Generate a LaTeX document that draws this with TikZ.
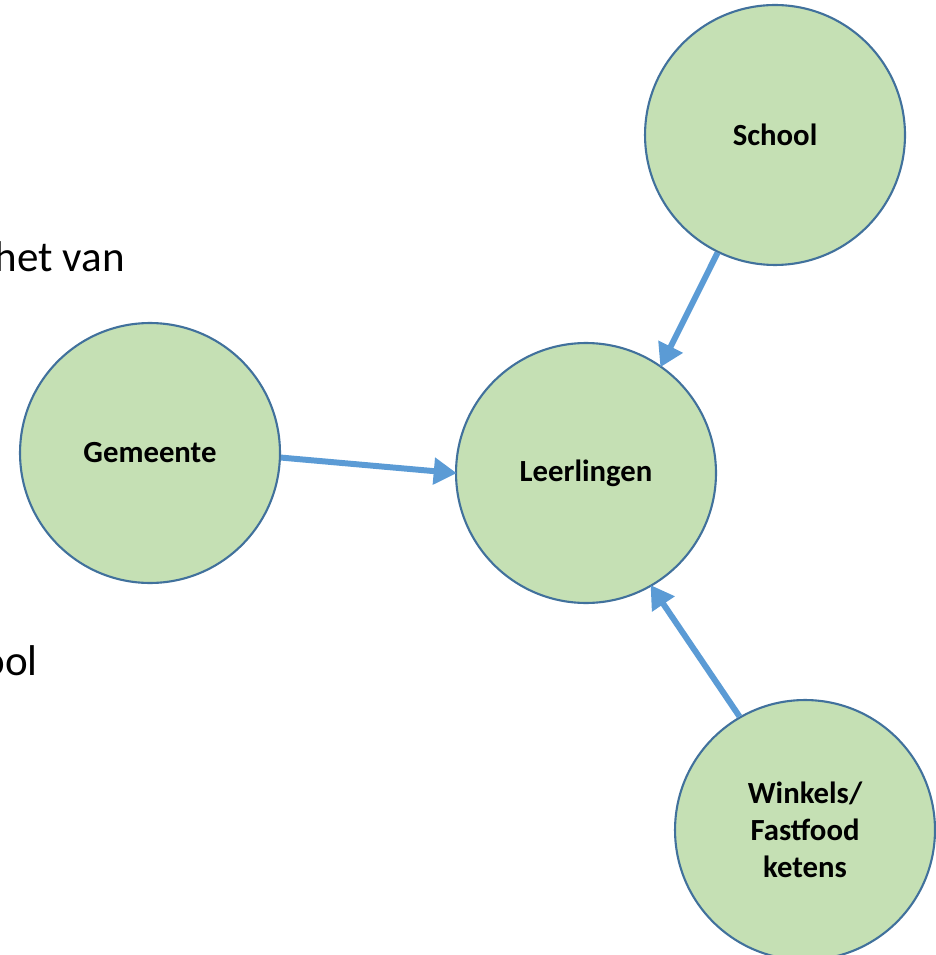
\documentclass[tikz,border=0pt]{standalone}
\usepackage{fontspec}
\setmainfont{Carlito}
\usepackage{tikz}
\usetikzlibrary{shapes.geometric, arrows.meta}
\definecolor{cirkelvul}{HTML}{C5E0B4}
\definecolor{cirkelrand}{HTML}{41719C}
\definecolor{pijlblauw}{HTML}{5B9BD5}
\tikzstyle{cirkel} = [circle, draw=cirkelrand, line width=1.2pt, fill=cirkelvul, minimum size=5.2cm, inner sep=0pt, align=center, font=\fontsize{17.5}{21}\selectfont\bfseries]
\tikzstyle{pijl} = [line width=3.4pt, draw=pijlblauw, -{Triangle[length=0.46cm, width=0.52cm, fill=pijlblauw]}, shorten >=-1pt]
\tikzstyle{tekst} = [font=\fontsize{24.5}{29}\selectfont, anchor=base east, inner sep=0pt]

\begin{document}
\begin{tikzpicture}[x=0.02cm, y=-0.02cm]
	\useasboundingbox (0,0) rectangle (935,955);
	\node[tekst] (hetvan) at (125,272) {het van};
	\node[tekst] (ool) at (38,675) {ool};
	\node[cirkel] (school) at (775,135) {School};
	\node[cirkel] (gemeente) at (150,453) {Gemeente};
	\node[cirkel] (leerlingen) at (586,473) {Leerlingen};
	\node[cirkel] (winkels) at (805,830) {Winkels/\\Fastfood\\ketens};
	\draw[pijl] (school.244) -- (leerlingen.55);
	\draw[pijl] (gemeente.-2) -- (leerlingen.180);
	\draw[pijl] (winkels.120) -- (leerlingen.-60);
	\end{tikzpicture}
\end{document}
